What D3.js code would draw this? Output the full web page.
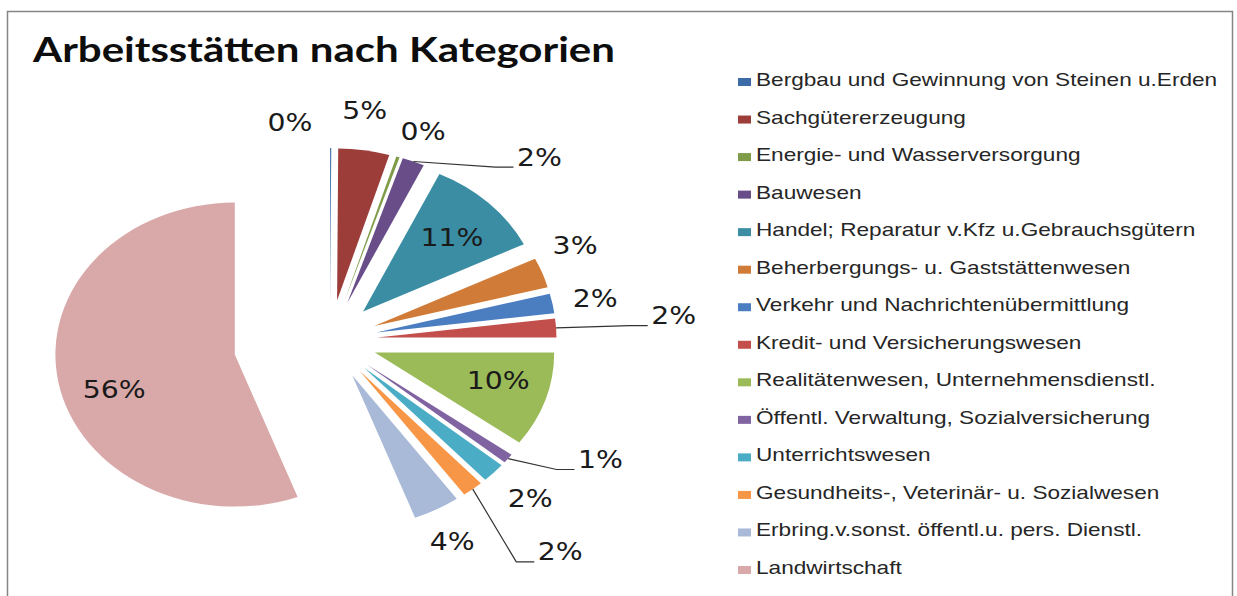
<!DOCTYPE html>
<html>
<head>
<meta charset="utf-8">
<script src="https://cdn.jsdelivr.net/npm/d3@7"></script>
<style>
  body { margin: 0; background: #fff; }
</style>
</head>
<body>
<div id="chart"></div>
<script>
// data (counts per 1000 workplaces)
const categories = [
  "Bergbau und Gewinnung von Steinen u.Erden",
  "Sachgütererzeugung",
  "Energie- und Wasserversorgung",
  "Bauwesen",
  "Handel; Reparatur v.Kfz u.Gebrauchsgütern",
  "Beherbergungs- u. Gaststättenwesen",
  "Verkehr und Nachrichtenübermittlung",
  "Kredit- und Versicherungswesen",
  "Realitätenwesen, Unternehmensdienstl.",
  "Öffentl. Verwaltung, Sozialversicherung",
  "Unterrichtswesen",
  "Gesundheits-, Veterinär- u. Sozialwesen",
  "Erbring.v.sonst. öffentl.u. pers. Dienstl.",
  "Landwirtschaft"
];
const counts = [1, 46, 3, 20, 107, 32, 21, 20, 101, 10, 21, 19, 42, 557];
const colors = ["#3C6BA8", "#9C3D3A", "#7E9B47", "#684D89", "#3A8DA3", "#D07B37", "#4A7EC1",
                "#C24F4C", "#9BBB59", "#8064A2", "#4BACC6", "#F79646", "#A9B9D8", "#D9A8A8"];

// layout tweaks for labels (Excel moves some of them)
const insideLabel = [false, false, false, false, true, false, false, false, true, false, false, false, false, true];
const leader = [false, false, false, true, false, false, false, true, false, true, false, true, false, false];
const labelNudge = [[-41, 11], [-6, -3], [12, 10], [110, 30], [1, 2], [-8, -14], [0, 2], [74, -10],
                    [4, -5], [58, -22], [5, 0], [60, 34], [-5, -1], [3, 16]];

const W = 1237, H = 596;
const cx = 330, cy = 340, r = 152, sx = 1.18;
const explode = (i) => i === categories.length - 1 ? 82 : 40;

const svg = d3.select("#chart").append("svg")
  .attr("width", W).attr("height", H);

svg.append("rect")
  .attr("x", 7.5).attr("y", 11.5).attr("width", 1225).attr("height", 600)
  .attr("fill", "#fff").attr("stroke", "#858585").attr("stroke-width", 1.5);

svg.append("text")
  .attr("x", 33).attr("y", 62)
  .attr("font-family", "Lato, 'Open Sans', sans-serif")
  .attr("font-weight", 700).attr("font-size", 34)
  .attr("textLength", 582).attr("lengthAdjust", "spacingAndGlyphs")
  .attr("fill", "#0d0d0d")
  .text("Arbeitsstätten nach Kategorien");

const total = d3.sum(counts);
const pie = d3.pie().value(d => d).sort(null);
const arcs = pie(counts);
const arc = d3.arc().innerRadius(0).outerRadius(r);

// position along a slice's bisector, in page coordinates
function along(d, dist) {
  const a = (d.startAngle + d.endAngle) / 2;
  return [cx + sx * Math.sin(a) * dist, cy - Math.cos(a) * dist];
}

const pieG = svg.append("g")
  .attr("transform", `translate(${cx},${cy}) scale(${sx},1)`);

pieG.selectAll("path")
  .data(arcs)
  .join("path")
  .attr("d", arc)
  .attr("fill", (d, i) => colors[i])
  .attr("transform", (d, i) => {
    const a = (d.startAngle + d.endAngle) / 2;
    return `translate(${Math.sin(a) * explode(i)},${-Math.cos(a) * explode(i)})`;
  });

const fmt = v => Math.round(v / total * 100) + "%";

arcs.forEach((d, i) => {
  const e = explode(i);
  let [x, y] = insideLabel[i] ? along(d, e + 0.7 * r) : along(d, e + r + 37);
  x += labelNudge[i][0];
  y += labelNudge[i][1];

  if (leader[i]) {
    const [x0, y0] = along(d, e + r);
    const ex = x - 26, ey = y + 10;
    svg.append("path")
      .attr("d", d3.line()([[x0, y0], [ex - 18, ey], [ex, ey]]))
      .attr("fill", "none").attr("stroke", "#333").attr("stroke-width", 1.2);
  }

  svg.append("text")
    .attr("transform", `translate(${x},${y + 8.5}) scale(${sx},1)`)
    .attr("text-anchor", "middle")
    .attr("font-family", "'DejaVu Sans', sans-serif")
    .attr("font-size", 24)
    .attr("fill", "#1a1a1a")
    .text(fmt(counts[i]));
});

// legend
const legend = svg.append("g");
const rowY = d3.scaleLinear().domain([0, categories.length - 1]).range([86, 574]);

const rows = legend.selectAll("g")
  .data(categories)
  .join("g")
  .attr("transform", (d, i) => `translate(738,${rowY(i)})`);

rows.append("rect")
  .attr("x", 0).attr("y", -8).attr("width", 13).attr("height", 8)
  .attr("fill", (d, i) => colors[i]);

rows.append("text")
  .attr("transform", `translate(18,0) scale(1.19,1)`)
  .attr("font-family", "'Liberation Sans', Arial, sans-serif")
  .attr("font-size", 19)
  .attr("fill", "#262626")
  .text(d => d);
</script>
</body>
</html>
